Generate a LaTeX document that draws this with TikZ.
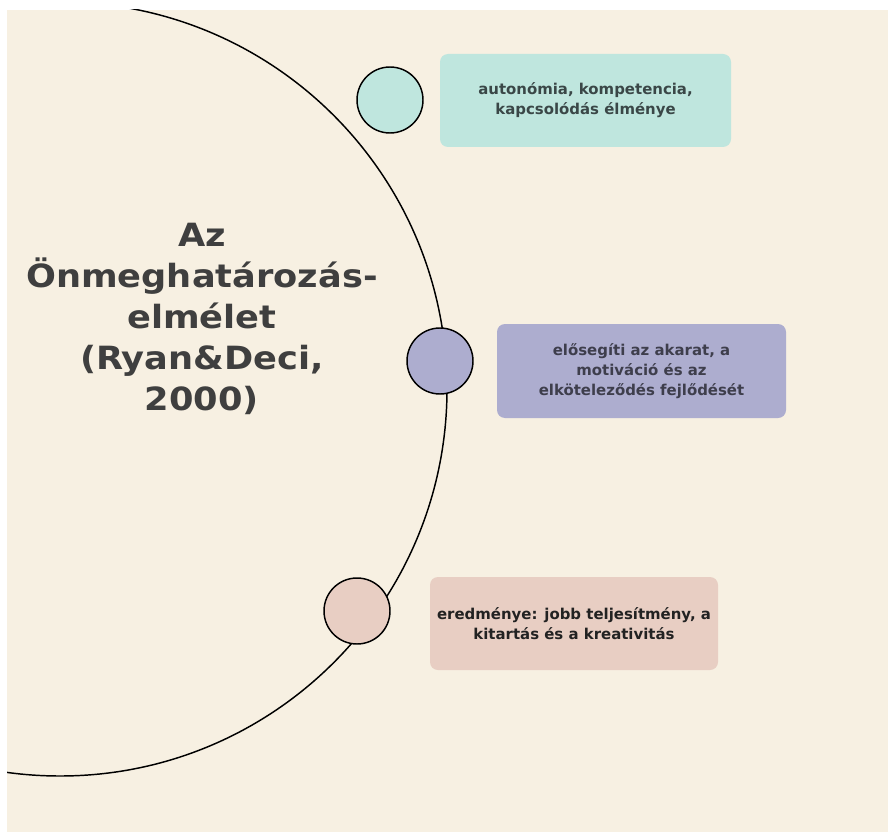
\documentclass[tikz,border=0pt]{standalone}
\usepackage{fontspec}
\setmainfont{DejaVu Sans}
\newfontfamily\titlefont[FakeStretch=1.1]{DejaVu Sans}
\definecolor{bg}{HTML}{F7F0E2}
\definecolor{mint}{HTML}{BFE6DE}
\definecolor{lav}{HTML}{ADADCF}
\definecolor{rose}{HTML}{E8CEC3}
\definecolor{titlecol}{HTML}{3F3F3F}
\definecolor{txtA}{HTML}{3A4747}
\definecolor{txtB}{HTML}{3E3E4C}
\definecolor{txtC}{HTML}{222222}
\tikzset{
  dot/.style={circle, draw=black, line width=1.1pt, minimum size=49.5pt, inner sep=0pt},
  infobox/.style={rounded corners=6pt, inner sep=0pt, align=center,
    font=\bfseries\fontsize{11.2}{15}\selectfont},
}
\begin{document}
\begin{tikzpicture}[x=0.75pt,y=-0.75pt]
\useasboundingbox (0,0) rectangle (888,831);
\fill[white] (-20,-20) rectangle (920,860);
\fill[bg] (7,10) rectangle (920,860);
\begin{scope}
\clip (7,10) rectangle (920,860);
\node[circle, draw=black, line width=1.1pt, minimum size=580.5pt, inner sep=0pt] (big) at (60,389) {};
\end{scope}
\node[text=titlecol, align=center, font=\titlefont\bfseries\fontsize{24}{30.75}\selectfont] (title) at (202,319)
  {Az\\Önmeghatározás-\\elmélet\\(Ryan\&Deci,\\2000)};
\node[dot, fill=mint] (c1) at (390,100) {};
\node[dot, fill=lav] (c2) at (440,361) {};
\node[dot, fill=rose] (c3) at (357,611) {};
\node[infobox, fill=mint, text=txtA, minimum width=218.25pt, minimum height=69.75pt] (b1) at (585.5,100.5)
  {autonómia, kompetencia,\\kapcsolódás élménye};
\node[infobox, fill=lav, text=txtB, minimum width=216.75pt, minimum height=70.5pt] (b2) at (641.5,371)
  {elősegíti az akarat, a\\motiváció és az\\elköteleződés fejlődését};
\node[infobox, fill=rose, text=txtC, minimum width=216pt, minimum height=69.75pt] (b3) at (574,623.5)
  {eredménye: jobb teljesítmény, a\\kitartás és a kreativitás};
\end{tikzpicture}
\end{document}
